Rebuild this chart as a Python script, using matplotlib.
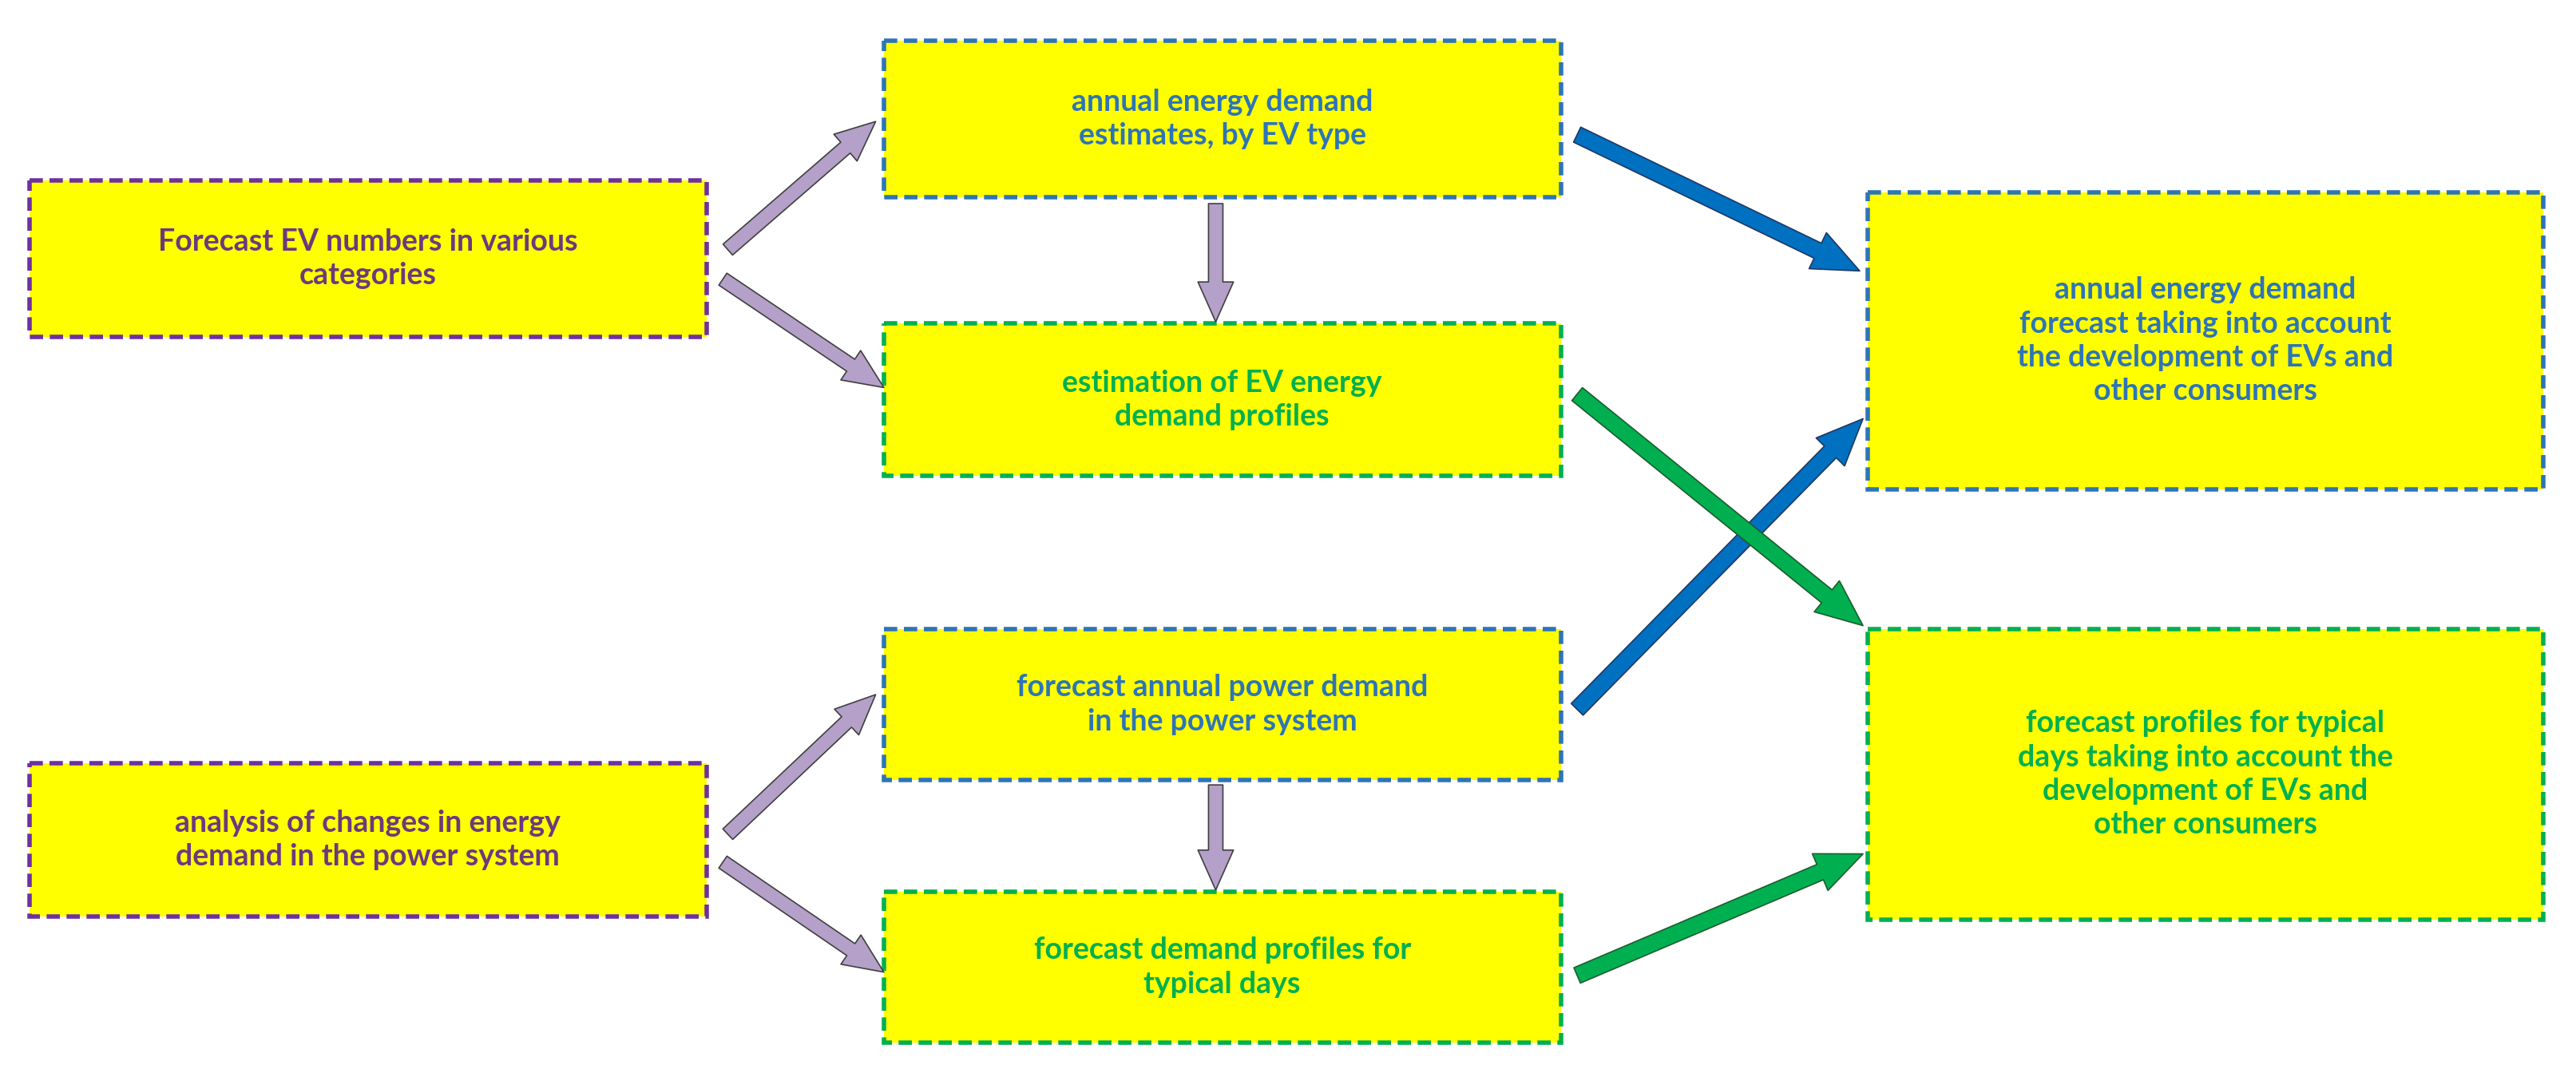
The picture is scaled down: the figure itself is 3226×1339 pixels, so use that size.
import matplotlib
matplotlib.use("Agg")
import matplotlib.pyplot as plt
from matplotlib.patches import Rectangle, FancyArrowPatch

W, H = 1568, 651
box_labels = [
    "Forecast EV numbers in various\ncategories",
    "analysis of changes in energy\ndemand in the power system",
    "annual energy demand\nestimates, by EV type",
    "estimation of EV energy\ndemand profiles",
    "forecast annual power demand\nin the power system",
    "forecast demand profiles for\ntypical days",
    "annual energy demand\nforecast taking into account\nthe development of EVs and\nother consumers",
    "forecast profiles for typical\ndays taking into account the\ndevelopment of EVs and\nother consumers",
]
box_x0 = [18, 18, 538, 538, 538, 538, 1137, 1137]
box_x1 = [430, 430, 950, 950, 950, 950, 1548, 1548]
box_y0 = [110, 465, 25, 197, 383, 543, 117, 383]
box_y1 = [205, 558, 120, 290, 475, 635, 298, 560]
box_kind = ["p", "p", "b", "g", "b", "g", "b", "g"]
edge = {"p": "#7030A0", "b": "#2E75B6", "g": "#00B050"}
txt = {"p": "#6B3A7D", "b": "#2E75B6", "g": "#00B050"}

arrow_from = [(443, 152), (440, 170), (443, 508), (440, 525), (740, 124), (740, 478),
              (960, 82), (960, 432), (960, 240), (960, 594)]
arrow_to = [(533, 74), (538, 236), (533, 423), (538, 592), (740, 196), (740, 542),
            (1132, 165), (1134, 255), (1134, 381), (1134, 520)]
arrow_kind = ["l", "l", "l", "l", "l", "l", "b", "b", "g", "g"]
arrow_face = {"l": "#B4A0C8", "b": "#0070C0", "g": "#00B050"}
arrow_edge = {"l": "#404040", "b": "#1F3864", "g": "#1E5C2E"}

fig = plt.figure(figsize=(32.26, 13.39), dpi=100)
ax = fig.add_axes([0, 0, 1, 1])
ax.set_xlim(0, W)
ax.set_ylim(H, 0)
ax.axis("off")

for lab, x0, x1, y0, y1, k in zip(box_labels, box_x0, box_x1, box_y0, box_y1, box_kind):
    ax.add_patch(Rectangle((x0, y0), x1 - x0, y1 - y0, facecolor="#FFFF00",
                           edgecolor=edge[k], lw=4, linestyle=(0, (3, 1.5))))
    ax.text((x0 + x1) / 2, (y0 + y1) / 2, lab, ha="center", va="center",
            color=txt[k], fontsize=27, fontweight="bold", family="Lato", linespacing=1.3)

for (xa, ya), (xb, yb), k in zip(arrow_from, arrow_to, arrow_kind):
    big = k != "l"
    style = "simple,head_width=3.2,head_length=3.6,tail_width=1.3" if not big else \
            "simple,head_width=3.6,head_length=4.2,tail_width=1.5"
    ax.add_patch(FancyArrowPatch((xa, ya), (xb, yb), arrowstyle=style, mutation_scale=10,
                                 facecolor=arrow_face[k], edgecolor=arrow_edge[k], lw=1.2,
                                 shrinkA=0, shrinkB=0))

fig.savefig("out.png", dpi=100)
